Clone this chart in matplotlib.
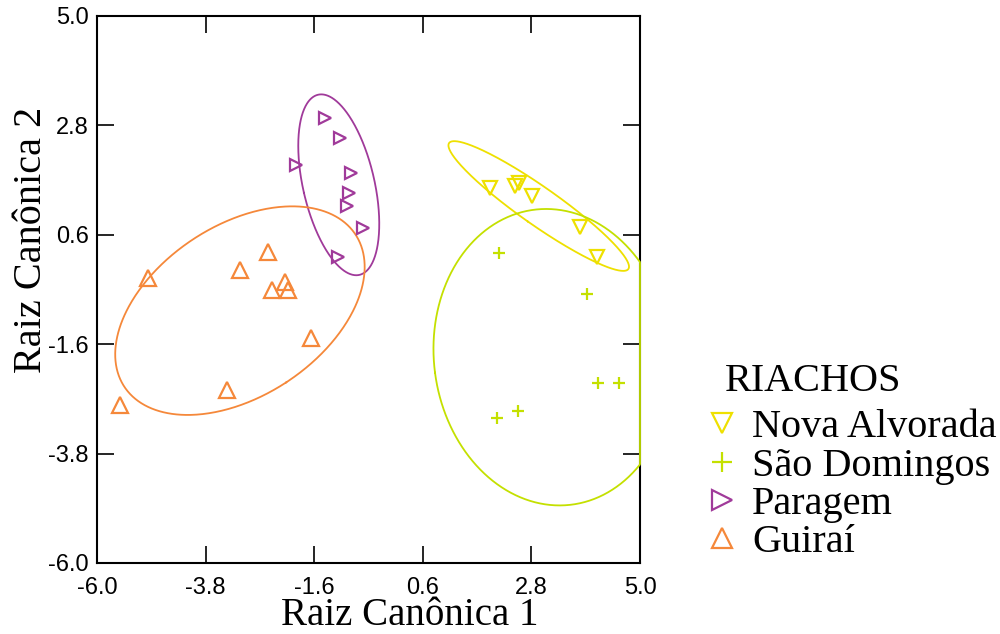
import numpy as np
import matplotlib
matplotlib.use("Agg")
import matplotlib.pyplot as plt
from matplotlib.lines import Line2D

# ---- data ----
legend_title = "RIACHOS"
groups = ["Nova Alvorada", "São Domingos", "Paragem", "Guiraí"]

nova_x = [1.96, 2.47, 2.54, 2.81, 3.79, 4.12]
nova_y = [1.54, 1.59, 1.64, 1.38, 0.76, 0.16]

sao_x = [2.15, 3.92, 4.14, 4.58, 2.10, 2.52]
sao_y = [0.23, -0.59, -2.39, -2.39, -3.09, -2.94]

par_x = [-1.38, -1.08, -1.97, -0.85, -0.89, -0.93, -0.61, -1.11]
par_y = [2.94, 2.55, 2.00, 1.84, 1.45, 1.17, 0.73, 0.16]

gui_x = [-4.96, -3.10, -2.54, -2.19, -2.45, -2.14, -1.66, -3.37, -5.53]
gui_y = [-0.27, -0.11, 0.26, -0.34, -0.52, -0.52, -1.48, -2.53, -2.82]

ticks = [-6.0, -3.8, -1.6, 0.6, 2.8, 5.0]
tick_labels = ["-6.0", "-3.8", "-1.6", "0.6", "2.8", "5.0"]

ellipse_p = 0.70  # coverage of the prediction ellipses

# ---- styles ----
colors = ["#EEE000", "#C4E000", "#A03A9A", "#F5883A"]
markers = ["v", "+", ">", "^"]
msizes = [10, 8, 9, 11]
series = [(nova_x, nova_y), (sao_x, sao_y), (par_x, par_y), (gui_x, gui_y)]

serif = ["Liberation Serif", "DejaVu Serif"]
sans = ["Liberation Sans", "DejaVu Sans"]
XMIN, XMAX, YMIN, YMAX = -6, 5, -6, 5


def f_quantile_2(p, m):
    # quantile of the F(2, m) distribution (closed form)
    return (m / 2.0) * ((1.0 - p) ** (-2.0 / m) - 1.0)


def prediction_ellipse_path(x, y, p, npts=600):
    x = np.asarray(x); y = np.asarray(y)
    n = len(x)
    cov = np.cov(x, y)
    vals, vecs = np.linalg.eigh(cov)
    scale2 = 2.0 * (n - 1) * (n + 1) / (n * (n - 2)) * f_quantile_2(p, n - 2)
    t = np.linspace(0, 2 * np.pi, npts)
    circ = np.vstack([np.cos(t), np.sin(t)])
    pts = vecs @ (np.sqrt(scale2 * vals)[:, None] * circ)
    ex = x.mean() + pts[0]
    ey = y.mean() + pts[1]
    # the outline is clamped to the frame, as in the original program
    return np.clip(ex, XMIN, XMAX), np.clip(ey, YMIN, YMAX)


fig = plt.figure(figsize=(10, 6.34), dpi=100)
ax = fig.add_axes([0.097, 0.112, 0.543, 0.8628])

for (xs, ys), c, m, ms in zip(series, colors, markers, msizes):
    ax.plot(xs, ys, linestyle="none", marker=m, markersize=ms,
            markerfacecolor="none", markeredgecolor=c, markeredgewidth=1.6,
            clip_on=False, zorder=4)
    ex, ey = prediction_ellipse_path(xs, ys, ellipse_p)
    ax.plot(ex, ey, color=c, linewidth=1.3, clip_on=False, zorder=3)

ax.set_xlim(XMIN, XMAX)
ax.set_ylim(YMIN, YMAX)
ax.set_xticks(ticks)
ax.set_xticklabels(tick_labels, family=sans, fontsize=17)
ax.set_yticks(ticks)
ax.set_yticklabels(tick_labels, family=sans, fontsize=17)
ax.tick_params(axis="both", direction="in", length=12, width=1.2,
               top=True, right=True, color="black")
ax.tick_params(axis="x", pad=10)
ax.tick_params(axis="y", pad=6)
for sp in ax.spines.values():
    sp.set_linewidth(1.5)
    sp.set_zorder(2)

ax.set_xlabel("Raiz Canônica 1", family=serif, fontsize=28)
ax.set_ylabel("Raiz Canônica 2", family=serif, fontsize=29)
ax.xaxis.set_label_coords(0.576, -0.062)
ax.yaxis.set_label_coords(-0.087, 0.59)

handles = [Line2D([], [], linestyle="none", marker=m, markersize=14,
                  markerfacecolor="none", markeredgecolor=c, markeredgewidth=1.6)
           for c, m in zip(colors, markers)]
fig.text(0.725, 1 - 391 / 634, legend_title, family=serif, fontsize=29,
         ha="left", va="baseline")
leg = fig.legend(handles, groups, loc="upper left",
                 bbox_to_anchor=(0.702, 1 - 409 / 634), frameon=False,
                 prop={"family": serif, "size": 29},
                 labelspacing=0.03, handletextpad=0.25, handlelength=1.0,
                 borderpad=0.0, borderaxespad=0.0)

fig.savefig("out.png", dpi=100)
